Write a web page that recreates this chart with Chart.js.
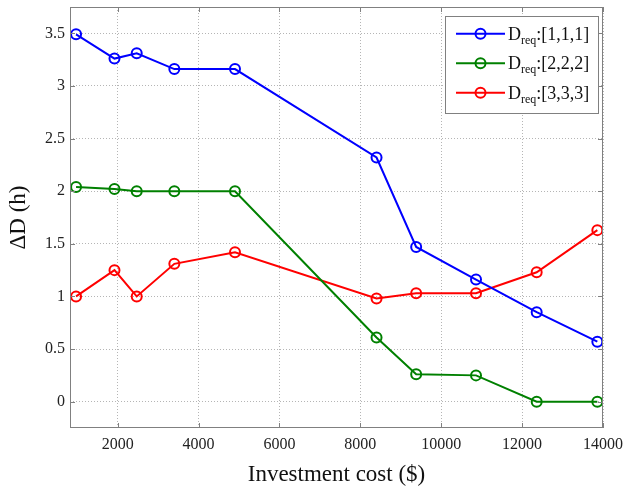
<!DOCTYPE html>
<html>
<head>
<meta charset="utf-8">
<script src="https://cdn.jsdelivr.net/npm/chart.js@4"></script>
<style>
html,body{margin:0;padding:0;background:#fff;}
#wrap{width:626px;height:488px;position:relative;}
</style>
</head>
<body>
<div id="wrap"><canvas id="c" width="626" height="488"></canvas></div>
<script>
const xValues = [970, 1920, 2470, 3400, 4900, 8400, 9380, 10860, 12360, 13860];
const blueValues = [3.49, 3.26, 3.31, 3.16, 3.16, 2.32, 1.47, 1.16, 0.85, 0.57];
const greenValues = [2.04, 2.02, 2.00, 2.00, 2.00, 0.61, 0.26, 0.25, 0.00, 0.00];
const redValues = [1.00, 1.25, 1.00, 1.31, 1.42, 0.98, 1.03, 1.03, 1.23, 1.63];
const seriesNames = ["[1,1,1]", "[2,2,2]", "[3,3,3]"];
const xTicks = [2000, 4000, 6000, 8000, 10000, 12000, 14000];
const yTicks = [0, 0.5, 1, 1.5, 2, 2.5, 3, 3.5];
const xTitle = "Investment cost ($)";
const yTitle = "\u0394D (h)";

const FONT = "'Liberation Serif', 'Times New Roman', serif";
const toPts = ys => xValues.map((x, i) => ({x: x, y: ys[i]}));

function mkDs(label, ys, color) {
  return {
    label: label, data: toPts(ys), borderColor: color, backgroundColor: 'rgba(0,0,0,0)',
    borderWidth: 2, pointRadius: 5, pointBorderWidth: 2, pointHoverRadius: 5,
    pointBackgroundColor: 'rgba(0,0,0,0)', pointBorderColor: color, tension: 0
  };
}

const framePlugin = {
  id: 'frame',
  afterDraw(chart) {
    const ctx = chart.ctx, a = chart.chartArea;
    const xs = chart.scales.x, ys = chart.scales.y;
    ctx.save();
    ctx.strokeStyle = '#808080';
    ctx.lineWidth = 1;
    ctx.strokeRect(a.left + 0.5, a.top + 0.5, a.right - a.left - 1, a.bottom - a.top - 1);
    ctx.beginPath();
    xs.ticks.forEach(t => {
      const p = Math.round(xs.getPixelForValue(t.value)) + 0.5;
      ctx.moveTo(p, a.bottom); ctx.lineTo(p, a.bottom - 5);
      ctx.moveTo(p, a.top); ctx.lineTo(p, a.top + 5);
    });
    ys.ticks.forEach(t => {
      const p = Math.round(ys.getPixelForValue(t.value)) + 0.5;
      ctx.moveTo(a.left, p); ctx.lineTo(a.left + 5, p);
      ctx.moveTo(a.right, p); ctx.lineTo(a.right - 5, p);
    });
    ctx.stroke();

    // legend
    const bw = 153, bh = 97;
    const bx = a.right - 5 - bw, by = a.top + 9;
    ctx.fillStyle = '#fff';
    ctx.fillRect(bx, by, bw, bh);
    ctx.strokeStyle = '#808080';
    ctx.strokeRect(bx + 0.5, by + 0.5, bw, bh);
    chart.data.datasets.forEach((ds, i) => {
      const y = by + 17.7 + i * 29.5;
      ctx.strokeStyle = ds.borderColor;
      ctx.lineWidth = 2;
      ctx.beginPath();
      ctx.moveTo(bx + 11, y); ctx.lineTo(bx + 60, y);
      ctx.stroke();
      ctx.beginPath();
      ctx.arc(bx + 35.5, y, 5, 0, Math.PI * 2);
      ctx.stroke();
      ctx.fillStyle = '#111';
      ctx.textBaseline = 'alphabetic';
      ctx.textAlign = 'left';
      let tx = bx + 63;
      ctx.font = '18px ' + FONT;
      ctx.fillText('D', tx, y + 6);
      tx += ctx.measureText('D').width;
      ctx.font = '12px ' + FONT;
      ctx.fillText('req', tx, y + 10);
      tx += ctx.measureText('req').width;
      ctx.font = '18px ' + FONT;
      ctx.fillText(':' + ds.label, tx, y + 6);
    });
    ctx.restore();
  }
};

new Chart(document.getElementById('c'), {
  type: 'line',
  data: {
    datasets: [
      mkDs(seriesNames[0], blueValues, '#0000ff'),
      mkDs(seriesNames[1], greenValues, '#008000'),
      mkDs(seriesNames[2], redValues, '#ff0000')
    ]
  },
  options: {
    responsive: false,
    animation: false,
    layout: {padding: {left: 0, top: 6, right: 23, bottom: 0}},
    plugins: {legend: {display: false}, tooltip: {enabled: false}},
    scales: {
      x: {
        type: 'linear', min: 820, max: 14000,
        afterBuildTicks: s => { s.ticks = xTicks.map(v => ({value: v})); },
        afterFit: s => { s.height = 60; s.paddingLeft = 0; s.paddingRight = 0; },
        ticks: {color: '#222', font: {family: FONT, size: 16}, padding: 7, maxRotation: 0,
                callback: v => String(v)},
        grid: {color: '#b5b5b5', drawTicks: false, tickLength: 0},
        border: {display: false, dash: [1, 2]},
        title: {display: true, text: xTitle, color: '#111', font: {family: FONT, size: 23}, padding: {top: 0, bottom: -1}}
      },
      y: {
        type: 'linear', min: -0.25, max: 3.75,
        afterBuildTicks: s => { s.ticks = yTicks.map(v => ({value: v})); },
        afterFit: s => { s.width = 70; s.paddingTop = 0; s.paddingBottom = 0; },
        ticks: {color: '#222', font: {family: FONT, size: 16}, padding: 5,
                callback: v => String(v)},
        grid: {color: '#b5b5b5', drawTicks: false, tickLength: 0},
        border: {display: false, dash: [1, 2]},
        title: {display: true, text: yTitle, color: '#111', font: {family: FONT, size: 23}, padding: {top: 5, bottom: 0}}
      }
    }
  },
  plugins: [framePlugin]
});
</script>
</body>
</html>
